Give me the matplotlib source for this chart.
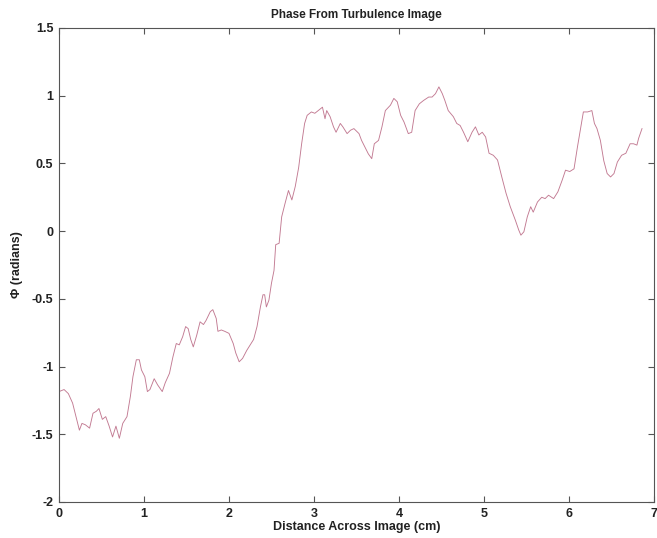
import matplotlib
matplotlib.use('Agg')
import matplotlib.pyplot as plt

dist_cm = [0.00, 0.06, 0.11, 0.16, 0.20, 0.24, 0.27, 0.31, 0.36, 0.40, 0.44, 0.47, 0.51, 0.55,
           0.59, 0.63, 0.67, 0.71, 0.75, 0.80, 0.84, 0.87, 0.91, 0.945, 0.97, 1.01, 1.04, 1.07,
           1.12, 1.16, 1.215, 1.25, 1.30, 1.34, 1.38, 1.415, 1.455, 1.49, 1.52, 1.55, 1.58, 1.62,
           1.66, 1.70, 1.73, 1.78, 1.81, 1.85, 1.87, 1.91, 1.95, 2.00, 2.05, 2.08, 2.12, 2.16,
           2.21, 2.25, 2.29, 2.33, 2.37, 2.40, 2.42, 2.44, 2.47, 2.50, 2.53, 2.55, 2.59, 2.62,
           2.66, 2.70, 2.74, 2.78, 2.82, 2.855, 2.89, 2.92, 2.97, 3.01, 3.05, 3.10, 3.13, 3.15,
           3.19, 3.23, 3.26, 3.31, 3.34, 3.39, 3.43, 3.47, 3.53, 3.56, 3.60, 3.64, 3.68, 3.71,
           3.76, 3.80, 3.84, 3.90, 3.94, 3.98, 4.02, 4.06, 4.11, 4.15, 4.19, 4.24, 4.29, 4.35,
           4.39, 4.43, 4.47, 4.51, 4.54, 4.58, 4.64, 4.68, 4.72, 4.76, 4.81, 4.86, 4.90, 4.94,
           4.98, 5.02, 5.06, 5.11, 5.16, 5.21, 5.26, 5.31, 5.37, 5.41, 5.435, 5.47, 5.51, 5.55,
           5.58, 5.63, 5.68, 5.72, 5.76, 5.82, 5.87, 5.92, 5.96, 6.01, 6.06, 6.10, 6.14, 6.17,
           6.22, 6.27, 6.30, 6.33, 6.37, 6.41, 6.45, 6.49, 6.53, 6.57, 6.62, 6.67, 6.72, 6.76,
           6.80, 6.82, 6.86]
phase = [-1.185, -1.17, -1.20, -1.27, -1.37, -1.47, -1.42, -1.43, -1.455, -1.345, -1.33, -1.31,
         -1.39, -1.37, -1.44, -1.52, -1.44, -1.53, -1.42, -1.37, -1.22, -1.075, -0.95, -0.95,
         -1.025, -1.075, -1.185, -1.17, -1.09, -1.135, -1.185, -1.12, -1.05, -0.93, -0.83, -0.84,
         -0.78, -0.705, -0.72, -0.80, -0.855, -0.77, -0.67, -0.69, -0.66, -0.595, -0.58, -0.645,
         -0.74, -0.73, -0.74, -0.755, -0.83, -0.90, -0.965, -0.94, -0.88, -0.84, -0.80, -0.705,
         -0.56, -0.47, -0.47, -0.56, -0.51, -0.385, -0.29, -0.10, -0.09, 0.105, 0.205, 0.30,
         0.23, 0.33, 0.47, 0.645, 0.795, 0.855, 0.88, 0.87, 0.89, 0.915, 0.83, 0.89,
         0.845, 0.77, 0.73, 0.795, 0.77, 0.72, 0.745, 0.757, 0.72, 0.67, 0.62, 0.57, 0.535, 0.645,
         0.67, 0.77, 0.89, 0.93, 0.98, 0.955, 0.855, 0.805, 0.72, 0.73, 0.89, 0.94, 0.965, 0.99,
         0.99, 1.015, 1.065, 1.015, 0.965, 0.89, 0.845, 0.795, 0.78, 0.73, 0.66, 0.73, 0.77, 0.71,
         0.73, 0.695, 0.575, 0.56, 0.525, 0.40, 0.28, 0.18, 0.08, 0.007, -0.03, -0.005, 0.105, 0.18,
         0.14, 0.215, 0.25, 0.24, 0.265, 0.24, 0.29, 0.375, 0.45, 0.44, 0.46, 0.62, 0.77, 0.88,
         0.88, 0.89, 0.795, 0.757, 0.67, 0.52, 0.425, 0.40, 0.425, 0.51, 0.56, 0.575, 0.645, 0.645,
         0.635, 0.685, 0.757]

xticks = [0, 1, 2, 3, 4, 5, 6, 7]
yticks = [-2, -1.5, -1, -0.5, 0, 0.5, 1, 1.5]

plt.rcParams['font.family'] = ['Liberation Sans', 'DejaVu Sans']
plt.rcParams['font.weight'] = 'bold'
plt.rcParams['axes.unicode_minus'] = False

fig = plt.figure(figsize=(6.57, 5.38), dpi=100)
ax = fig.add_axes([0.0898, 0.067, 0.9055, 0.881])

ax.plot(dist_cm, phase, color='#c27a92', linewidth=0.65)

ax.set_xlim(0, 7)
ax.set_ylim(-2, 1.5)
ax.set_xticks(xticks)
ax.set_yticks(yticks)
ax.set_xticklabels([str(t) for t in xticks])
ax.set_yticklabels(['-2', '-1.5', '-1', '-0.5', '0', '0.5', '1', '1.5'])
ax.tick_params(direction='in', length=4, width=0.8, top=True, right=True,
               labelsize=9, pad=4, color='#555555', labelcolor='#222222')
for s in ax.spines.values():
    s.set_color('#555555')
    s.set_linewidth(0.8)

ax.set_title('Phase From Turbulence Image', fontsize=8.5, fontweight='bold', pad=7, color='#222222')
ax.set_xlabel('Distance Across Image (cm)', fontsize=9, fontweight='bold', labelpad=1, color='#222222')
ax.set_ylabel('Φ (radians)', fontsize=9, fontweight='bold', labelpad=6, color='#222222')

fig.savefig('out.png', dpi=100)
